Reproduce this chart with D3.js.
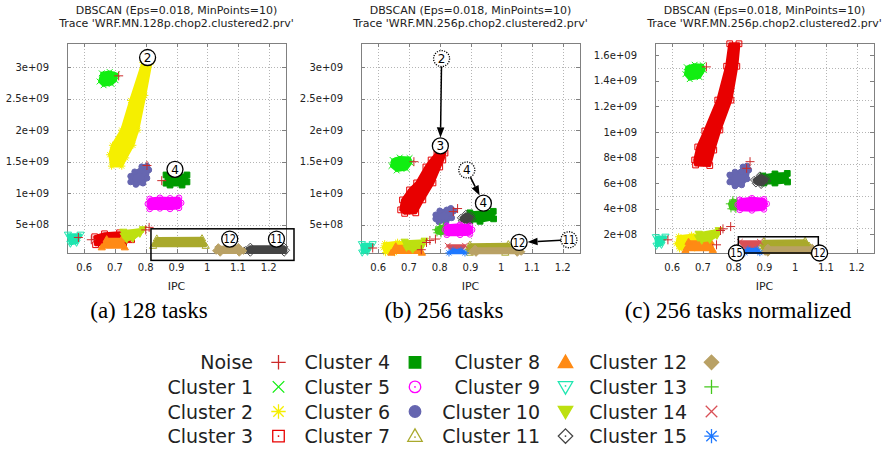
<!DOCTYPE html>
<html>
<head>
<meta charset="utf-8">
<script src="https://cdn.jsdelivr.net/npm/d3@7"></script>
<style>
  body { margin: 0; background: #fff; }
  svg { display: block; }
  text { font-family: "DejaVu Sans", sans-serif; }
  text.caption { font-family: "Liberation Serif", "Times New Roman", serif; }
</style>
</head>
<body>
<svg id="fig" width="883" height="451"></svg>
<script>
// ---- legend / cluster definitions (gnuplot point types 1..15) ----
const CLUSTER_NAMES = ["Noise", "Cluster 1", "Cluster 2", "Cluster 3", "Cluster 4", "Cluster 5",
  "Cluster 6", "Cluster 7", "Cluster 8", "Cluster 9", "Cluster 10", "Cluster 11",
  "Cluster 12", "Cluster 13", "Cluster 14", "Cluster 15"];
const CLUSTER_COLORS = ["#cc2a2a", "#11ee11", "#f5ef00", "#e80000", "#009a00", "#ff00ff",
  "#6666b0", "#a9a92c", "#ff8a14", "#1ee6b0", "#bde010", "#444444",
  "#b9a165", "#44c81c", "#d94f55", "#1e78ff"];
const CLUSTER_SHAPES = ["plus", "cross", "star", "square", "square", "circle", "circle", "tri",
  "tri", "triDown", "triDown", "diamond", "diamond", "plus", "cross", "star"];
const CLUSTER_FILLED = [0, 0, 0, 0, 1, 0, 1, 0, 1, 0, 1, 0, 1, 0, 0, 0];

// ---- axes ----
const IPC_RANGE = [0.544, 1.256];
const IPC_TICKS = [0.6, 0.7, 0.8, 0.9, 1, 1.1, 1.2];
const IPC_LABELS = ["0.6", "0.7", "0.8", "0.9", "1", "1.1", "1.2"];
const INSTR_RANGE = [0.54e8, 33.8e8];
const INSTR_TICKS = [5e8, 10e8, 15e8, 20e8, 25e8, 30e8];
const INSTR_LABELS = ["5e+08", "1e+09", "1.5e+09", "2e+09", "2.5e+09", "3e+09"];
const INSTR_RANGE_NORM = [0.52e8, 16.96e8];
const INSTR_TICKS_NORM = [2e8, 4e8, 6e8, 8e8, 10e8, 12e8, 14e8, 16e8];
const INSTR_LABELS_NORM = ["2e+08", "4e+08", "6e+08", "8e+08", "1e+09", "1.2e+09", "1.4e+09", "1.6e+09"];
const INSTR_GRID_NORM = [2.5e8, 5e8, 7.5e8, 10e8, 12.5e8, 15e8];

const TITLE_LINE = "DBSCAN (Eps=0.018, MinPoints=10)";
const TRACES = ["Trace 'WRF.MN.128p.chop2.clustered2.prv'",
  "Trace 'WRF.MN.256p.chop2.clustered2.prv'",
  "Trace 'WRF.MN.256p.chop2.clustered2.prv'"];
const CAPTIONS = ["(a) 128 tasks", "(b) 256 tasks", "(c) 256 tasks normalized"];

// ---- cluster outlines: [cluster, [[IPC, instructions], ...]] ----
const blobs128 = [
  [1, [[0.657, 29.0e8], [0.683, 29.2e8], [0.706, 28.85e8], [0.702, 27.9e8], [0.689, 27.3e8], [0.663, 27.1e8], [0.650, 27.7e8]]],
  [2, [[0.791, 30.7e8], [0.751, 24.7e8], [0.722, 20.0e8], [0.692, 17.6e8], [0.683, 16.1e8], [0.689, 14.3e8], [0.722, 14.3e8], [0.735, 15.6e8], [0.758, 17.6e8], [0.774, 20.0e8], [0.797, 25.5e8], [0.817, 30.7e8]]],
  [3, [[0.634, 3.11e8], [0.666, 3.58e8], [0.715, 3.74e8], [0.748, 3.66e8], [0.754, 2.64e8], [0.728, 2.0e8], [0.683, 1.85e8], [0.637, 1.85e8]]],
  [4, [[0.866, 12.9e8], [0.934, 12.9e8], [0.934, 11.8e8], [0.918, 11.3e8], [0.879, 11.3e8], [0.866, 11.6e8]]],
  [5, [[0.813, 9.1e8], [0.846, 9.27e8], [0.879, 9.19e8], [0.908, 9.27e8], [0.915, 8.48e8], [0.908, 7.69e8], [0.879, 7.53e8], [0.846, 7.61e8], [0.813, 7.53e8], [0.807, 8.32e8]]],
  [6, [[0.751, 12.7e8], [0.764, 13.4e8], [0.781, 13.5e8], [0.787, 14.2e8], [0.804, 14.3e8], [0.810, 13.7e8], [0.804, 12.4e8], [0.791, 11.6e8], [0.768, 11.4e8], [0.751, 11.8e8]]],
  [7, [[0.836, 2.84e8], [0.983, 2.87e8], [0.995, 1.69e8], [0.824, 1.69e8]]],
  [8, [[0.673, 2.72e8], [0.722, 2.72e8], [0.732, 1.45e8], [0.657, 1.45e8]]],
  [9, [[0.547, 3.43e8], [0.588, 3.43e8], [0.575, 2.16e8], [0.555, 2.01e8]]],
  [10, [[0.727, 3.9e8], [0.791, 4.29e8], [0.781, 3.58e8], [0.758, 2.79e8], [0.738, 2.64e8], [0.728, 3.27e8]]],
  [11, [[1.124, 0.98e8], [1.14, 1.53e8], [1.25, 1.53e8], [1.256, 0.98e8], [1.25, 0.6e8], [1.14, 0.6e8]]],
  [12, [[1.036, 1.45e8], [1.101, 1.48e8], [1.117, 0.9e8], [1.104, 0.6e8], [1.042, 0.6e8], [1.029, 0.9e8]]]
];
const noise128 = [[0.712, 28.6e8], [0.804, 14.4e8], [0.852, 12.0e8], [0.581, 3.0e8], [0.623, 2.64e8], [0.800, 4.2e8], [0.811, 4.6e8]];
const labels128 = [["2", 0.806, 31.5e8, "solid"], ["4", 0.895, 13.8e8, "solid"], ["12", 1.073, 2.75e8, "solid"], ["11", 1.225, 2.75e8, "solid"]];
const arrows128 = [];
const boxes128 = [[0.817, 4.37e8, 1.282, -0.63e8]];

const blobs256 = [
  [1, [[0.647, 15.27e8], [0.67, 15.66e8], [0.702, 15.58e8], [0.706, 14.8e8], [0.692, 13.85e8], [0.66, 13.61e8], [0.643, 14.32e8]]],
  [2, [[0.621, 2.0e8], [0.663, 2.24e8], [0.686, 2.16e8], [0.683, 1.06e8], [0.653, 0.6e8], [0.624, 0.6e8], [0.617, 1.37e8]]],
  [3, [[0.791, 16.37e8], [0.772, 15.27e8], [0.755, 14.16e8], [0.725, 11.64e8], [0.702, 10.53e8], [0.679, 8.95e8], [0.673, 7.37e8], [0.686, 6.82e8], [0.722, 6.9e8], [0.745, 8.95e8], [0.778, 11.64e8], [0.8, 14.16e8], [0.81, 15.27e8], [0.817, 16.37e8]]],
  [4, [[0.898, 6.9e8], [0.974, 7.14e8], [0.975, 5.95e8], [0.931, 5.56e8], [0.898, 5.64e8]]],
  [6, [[0.787, 6.58e8], [0.8, 7.22e8], [0.823, 7.37e8], [0.836, 7.61e8], [0.846, 7.22e8], [0.839, 6.11e8], [0.82, 5.4e8], [0.797, 5.48e8], [0.787, 5.95e8]]],
  [7, [[0.898, 1.85e8], [1.023, 1.93e8], [1.034, 0.9e8], [1.013, 0.6e8], [0.898, 0.6e8], [0.89, 1.06e8]]],
  [8, [[0.657, 1.61e8], [0.729, 1.61e8], [0.742, 0.6e8], [0.643, 0.6e8]]],
  [9, [[0.547, 1.93e8], [0.582, 1.93e8], [0.565, 0.74e8], [0.548, 0.6e8]]],
  [10, [[0.686, 2.32e8], [0.751, 2.48e8], [0.742, 1.53e8], [0.712, 1.06e8], [0.692, 1.37e8]]],
  [11, [[0.869, 6.11e8], [0.885, 6.74e8], [0.902, 6.43e8], [0.905, 5.95e8], [0.889, 5.4e8], [0.872, 5.64e8]]],
  [12, [[0.915, 1.22e8], [1.045, 1.22e8], [1.065, 0.74e8], [1.052, 0.58e8], [0.918, 0.58e8], [0.905, 0.74e8]]],
  [13, [[0.787, 4.22e8], [0.8, 4.69e8], [0.813, 4.85e8], [0.823, 4.37e8], [0.82, 3.74e8], [0.804, 3.58e8], [0.791, 3.74e8]]],
  [5, [[0.823, 4.85e8], [0.866, 5.0e8], [0.898, 4.85e8], [0.905, 4.22e8], [0.898, 3.5e8], [0.866, 3.43e8], [0.823, 3.43e8], [0.818, 4.22e8]]],
  [14, [[0.826, 1.69e8], [0.882, 1.69e8], [0.866, 0.85e8], [0.843, 0.85e8]]],
  [15, [[0.843, 0.98e8], [0.869, 0.98e8], [0.882, 0.56e8], [0.83, 0.56e8]]]
];
const noise256 = [[0.716, 15.0e8], [0.844, 7.1e8], [0.858, 7.58e8], [0.582, 1.33e8], [0.74, 1.06e8], [0.757, 2.21e8], [0.768, 2.53e8], [0.786, 2.75e8]];
const labels256 = [["2", 0.806, 31.33e8, "dotted"], ["3", 0.802, 17.5e8, "solid"], ["4", 0.888, 13.69e8, "dotted"],
  ["4", 0.942, 8.43e8, "solid"], ["11", 1.22, 2.64e8, "dotted"], ["12", 1.058, 2.21e8, "solid"]];
const arrows256 = [[0, 1], [2, 3], [4, 5]];
const boxes256 = [];

const blobs256n = [
  [1, [[0.647, 15.07e8], [0.673, 15.26e8], [0.699, 15.22e8], [0.703, 14.83e8], [0.689, 14.28e8], [0.657, 14.13e8], [0.643, 14.52e8]]],
  [2, [[0.621, 1.79e8], [0.663, 1.91e8], [0.699, 1.94e8], [0.696, 1.32e8], [0.673, 0.93e8], [0.624, 0.85e8], [0.614, 1.24e8]]],
  [3, [[0.787, 16.9e8], [0.777, 15.14e8], [0.748, 12.49e8], [0.706, 10.07e8], [0.683, 8.82e8], [0.673, 7.8e8], [0.676, 7.41e8], [0.722, 7.37e8], [0.735, 8.58e8], [0.755, 10.15e8], [0.791, 12.49e8], [0.81, 15.14e8], [0.817, 16.9e8]]],
  [4, [[0.895, 6.55e8], [0.934, 6.71e8], [0.974, 6.75e8], [0.975, 6.08e8], [0.934, 6.0e8], [0.898, 6.0e8]]],
  [6, [[0.787, 6.63e8], [0.804, 6.86e8], [0.823, 6.86e8], [0.83, 7.26e8], [0.843, 7.33e8], [0.849, 7.02e8], [0.843, 6.32e8], [0.826, 5.85e8], [0.804, 5.77e8], [0.787, 6.08e8]]],
  [7, [[0.898, 1.44e8], [1.032, 1.48e8], [1.045, 1.09e8], [1.036, 0.77e8], [0.898, 0.77e8], [0.89, 1.09e8]]],
  [8, [[0.653, 1.4e8], [0.725, 1.4e8], [0.732, 0.77e8], [0.643, 0.77e8]]],
  [9, [[0.547, 1.75e8], [0.578, 1.79e8], [0.565, 1.16e8], [0.549, 1.09e8]]],
  [10, [[0.686, 2.02e8], [0.751, 2.3e8], [0.745, 1.87e8], [0.722, 1.55e8], [0.696, 1.48e8], [0.684, 1.71e8]]],
  [11, [[0.866, 6.24e8], [0.885, 6.59e8], [0.905, 6.4e8], [0.908, 6.16e8], [0.889, 5.85e8], [0.872, 5.97e8]]],
  [12, [[0.911, 0.93e8], [1.055, 0.93e8], [1.068, 0.62e8], [1.055, 0.55e8], [0.911, 0.55e8], [0.902, 0.62e8]]],
  [13, [[0.786, 4.37e8], [0.797, 4.68e8], [0.81, 4.6e8], [0.815, 4.29e8], [0.807, 3.94e8], [0.791, 3.98e8]]],
  [5, [[0.82, 4.68e8], [0.859, 4.8e8], [0.898, 4.72e8], [0.907, 4.37e8], [0.898, 3.94e8], [0.859, 3.86e8], [0.82, 3.9e8], [0.813, 4.29e8]]],
  [14, [[0.82, 1.4e8], [0.885, 1.4e8], [0.869, 0.85e8], [0.84, 0.85e8]]],
  [15, [[0.846, 0.81e8], [0.876, 0.81e8], [0.885, 0.55e8], [0.836, 0.55e8]]]
];
const noise256n = [[0.711, 15.09e8], [0.853, 7.67e8], [0.842, 7.15e8], [0.586, 1.55e8], [0.744, 1.16e8], [0.757, 2.28e8], [0.765, 2.41e8], [0.79, 2.59e8]];
const labels256n = [["15", 0.809, 0.52e8, "solid"], ["12", 1.079, 0.52e8, "solid"]];
const arrows256n = [];
const boxes256n = [[0.815, 1.79e8, 1.075, 0.52e8]];

// ---- layout ----
const PANEL_LEFT = [67, 361, 655];
const PLOT_W = 219, PLOT_TOP = 43, PLOT_BOTTOM = 253;
const CAPTION_X = [149, 444, 738];

const svg = d3.select("#fig");

function markerPath(shape, r) {
  const h = r * 0.8;
  switch (shape) {
    case "plus": return `M${-r},0H${r}M0,${-r}V${r}`;
    case "cross": return `M${-h},${-h}L${h},${h}M${-h},${h}L${h},${-h}`;
    case "star": return `M${-r},0H${r}M0,${-r}V${r}M${-h * 0.9},${-h * 0.9}L${h * 0.9},${h * 0.9}M${-h * 0.9},${h * 0.9}L${h * 0.9},${-h * 0.9}`;
    case "square": return `M${-h},${-h}H${h}V${h}H${-h}Z`;
    case "circle": return `M${h},0A${h},${h} 0 1,1 ${-h},0A${h},${h} 0 1,1 ${h},0Z`;
    case "tri": return `M0,${-r}L${r},${r * 0.72}L${-r},${r * 0.72}Z`;
    case "triDown": return `M0,${r}L${r},${-r * 0.72}L${-r},${-r * 0.72}Z`;
    case "diamond": return `M0,${-r}L${r},0L0,${r}L${-r},0Z`;
  }
}

function drawMarker(g, c, cx, cy, r, legend) {
  const shape = CLUSTER_SHAPES[c];
  const col = CLUSTER_COLORS[c];
  const lineLike = shape === "plus" || shape === "cross" || shape === "star";
  const filled = CLUSTER_FILLED[c] === 1;
  g.append("path")
    .attr("transform", `translate(${cx},${cy})`)
    .attr("d", markerPath(shape, r))
    .attr("fill", lineLike ? "none" : (filled ? col : (legend ? "#fff" : "none")))
    .attr("stroke", col)
    .attr("stroke-width", legend ? 1.3 : 1);
  if (legend && !lineLike && !filled) {
    g.append("circle").attr("cx", cx).attr("cy", cy + (shape === "tri" ? 1 : shape === "triDown" ? -1 : 0))
      .attr("r", 0.9).attr("fill", col);
  }
}

function drawPanel(k, yDomain, yTicks, yLabels, yGrid, blobs, noise, labels, arrows, boxes) {
  const left = PANEL_LEFT[k];
  const x = d3.scaleLinear().domain(IPC_RANGE).range([left, left + PLOT_W]);
  const y = d3.scaleLinear().domain(yDomain).range([PLOT_BOTTOM, PLOT_TOP]);
  const g = svg.append("g");
  const cx = left + PLOT_W / 2;

  // titles
  g.append("text").attr("x", cx).attr("y", 14).attr("text-anchor", "middle")
    .attr("font-size", 11).attr("fill", "#222").text(TITLE_LINE);
  g.append("text").attr("x", cx).attr("y", 27).attr("text-anchor", "middle")
    .attr("font-size", 11).attr("fill", "#222").text(TRACES[k]);

  // grid
  const grid = g.append("g").attr("stroke", "#b4b4b4").attr("stroke-width", 1)
    .attr("stroke-dasharray", "1,2");
  IPC_TICKS.forEach(v => grid.append("line")
    .attr("x1", Math.round(x(v)) + 0.5).attr("x2", Math.round(x(v)) + 0.5)
    .attr("y1", PLOT_TOP).attr("y2", PLOT_BOTTOM));
  yGrid.forEach(v => grid.append("line")
    .attr("y1", Math.round(y(v)) + 0.5).attr("y2", Math.round(y(v)) + 0.5)
    .attr("x1", left).attr("x2", left + PLOT_W));

  // border and ticks
  const ax = g.append("g").attr("stroke", "#808080").attr("stroke-width", 1);
  ax.append("rect").attr("x", left + 0.5).attr("y", PLOT_TOP + 0.5)
    .attr("width", PLOT_W).attr("height", PLOT_BOTTOM - PLOT_TOP).attr("fill", "none");
  IPC_TICKS.forEach(v => {
    const px = Math.round(x(v)) + 0.5;
    ax.append("line").attr("x1", px).attr("x2", px).attr("y1", PLOT_BOTTOM).attr("y2", PLOT_BOTTOM - 4);
    ax.append("line").attr("x1", px).attr("x2", px).attr("y1", PLOT_TOP).attr("y2", PLOT_TOP + 4);
  });
  yTicks.forEach(v => {
    const py = Math.round(y(v)) + 0.5;
    ax.append("line").attr("y1", py).attr("y2", py).attr("x1", left).attr("x2", left + 4);
    ax.append("line").attr("y1", py).attr("y2", py).attr("x1", left + PLOT_W).attr("x2", left + PLOT_W - 4);
  });

  // tick labels
  IPC_TICKS.forEach((v, i) => g.append("text").attr("x", x(v)).attr("y", 271)
    .attr("text-anchor", "middle").attr("font-size", 10).attr("fill", "#222").text(IPC_LABELS[i]));
  yTicks.forEach((v, i) => g.append("text").attr("x", left - 18).attr("y", y(v) + 3.6)
    .attr("text-anchor", "end").attr("font-size", 10).attr("fill", "#222").text(yLabels[i]));
  g.append("text").attr("x", cx).attr("y", 290).attr("text-anchor", "middle")
    .attr("font-size", 11).attr("fill", "#222").text("IPC");

  // clusters
  const outline = d3.line().x(d => x(d[0])).y(d => y(d[1])).curve(d3.curveLinearClosed);
  blobs.forEach(([c, pts]) => {
    const col = CLUSTER_COLORS[c];
    g.append("path").attr("d", outline(pts))
      .attr("fill", col).attr("stroke", col).attr("stroke-width", 3)
      .attr("stroke-linejoin", "round");
    pts.forEach(p => drawMarker(g, c, x(p[0]), y(p[1]), 3.6, false));
  });
  noise.forEach(p => drawMarker(g, 0, x(p[0]), y(p[1]), 4.5, false));

  // annotation boxes
  boxes.forEach(b => g.append("rect")
    .attr("x", x(b[0])).attr("y", y(b[1]))
    .attr("width", x(b[2]) - x(b[0])).attr("height", y(b[3]) - y(b[1]))
    .attr("fill", "none").attr("stroke", "#000").attr("stroke-width", 1.5));

  // arrows between labelled circles
  const R = 8;
  arrows.forEach(([a, b]) => {
    const p = [x(labels[a][1]), y(labels[a][2])];
    const q = [x(labels[b][1]), y(labels[b][2])];
    const dx = q[0] - p[0], dy = q[1] - p[1];
    const len = Math.hypot(dx, dy), ux = dx / len, uy = dy / len;
    const s = [p[0] + ux * R, p[1] + uy * R];
    const t = [q[0] - ux * (R + 0.5), q[1] - uy * (R + 0.5)];
    const hl = 10, hw = 3.8;
    const base = [t[0] - ux * hl, t[1] - uy * hl];
    g.append("line").attr("x1", s[0]).attr("y1", s[1]).attr("x2", base[0]).attr("y2", base[1])
      .attr("stroke", "#000").attr("stroke-width", 1.5);
    g.append("path")
      .attr("d", `M${t[0]},${t[1]}L${base[0] - uy * hw},${base[1] + ux * hw}L${base[0] + uy * hw},${base[1] - ux * hw}Z`)
      .attr("fill", "#000");
  });

  // circled cluster numbers
  labels.forEach(([txt, ix, iy, style]) => {
    const px = x(ix), py = y(iy);
    g.append("circle").attr("cx", px).attr("cy", py).attr("r", R)
      .attr("fill", "#fff").attr("stroke", "#000").attr("stroke-width", 1.3)
      .attr("stroke-dasharray", style === "dotted" ? "1.2,1.3" : null);
    const t = g.append("text").attr("x", px).attr("y", py + 4.3).attr("text-anchor", "middle")
      .attr("font-size", 12).attr("fill", "#000").text(txt);
    if (txt.length > 1) t.attr("textLength", 12.5).attr("lengthAdjust", "spacingAndGlyphs");
  });

  // caption
  svg.append("text").attr("class", "caption").attr("x", CAPTION_X[k]).attr("y", 318)
    .attr("text-anchor", "middle").attr("font-size", 23).attr("fill", "#000")
    .text(CAPTIONS[k]);
}

drawPanel(0, INSTR_RANGE, INSTR_TICKS, INSTR_LABELS, INSTR_TICKS, blobs128, noise128, labels128, arrows128, boxes128);
drawPanel(1, INSTR_RANGE, INSTR_TICKS, INSTR_LABELS, INSTR_TICKS, blobs256, noise256, labels256, arrows256, boxes256);
drawPanel(2, INSTR_RANGE_NORM, INSTR_TICKS_NORM, INSTR_LABELS_NORM, INSTR_GRID_NORM, blobs256n, noise256n, labels256n, arrows256n, boxes256n);

// ---- legend ----
const LEGEND_TEXT_RIGHT = [253, 390, 540, 687];
const LEGEND_SYMBOL_X = [278.5, 415, 565.5, 711.5];
const LEGEND_BASELINE = [369.3, 393.9, 418.5, 443.1];
const legend = svg.append("g");
CLUSTER_NAMES.forEach((name, i) => {
  const col = Math.floor(i / 4), row = i % 4;
  legend.append("text").attr("x", LEGEND_TEXT_RIGHT[col]).attr("y", LEGEND_BASELINE[row])
    .attr("text-anchor", "end").attr("font-size", 19).attr("fill", "#222").text(name);
  drawMarker(legend, i, LEGEND_SYMBOL_X[col], LEGEND_BASELINE[row] - 7, 7.2, true);
});
</script>
</body>
</html>
